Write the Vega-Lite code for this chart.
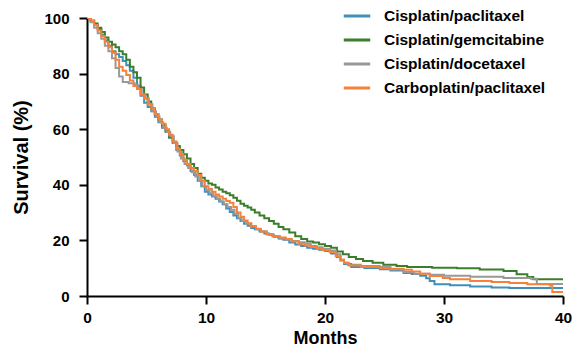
{
  "$schema": "https://vega.github.io/schema/vega-lite/v6.json",
  "autosize": {"type": "none"},
  "width": 476,
  "height": 278,
  "padding": {"left": 87, "top": 18, "right": 9, "bottom": 58},
  "background": "white",
  "config": {"view": {"stroke": null}, "font": "Liberation Sans"},
  "datasets": {
    "km": [
      {"g": "Cisplatin/paclitaxel", "m": 0, "s": 100},
      {"g": "Cisplatin/paclitaxel", "m": 0.3, "s": 99},
      {"g": "Cisplatin/paclitaxel", "m": 0.6, "s": 97.5},
      {"g": "Cisplatin/paclitaxel", "m": 0.9, "s": 96},
      {"g": "Cisplatin/paclitaxel", "m": 1.2, "s": 94},
      {"g": "Cisplatin/paclitaxel", "m": 1.5, "s": 92},
      {"g": "Cisplatin/paclitaxel", "m": 1.8, "s": 90},
      {"g": "Cisplatin/paclitaxel", "m": 2.1, "s": 88},
      {"g": "Cisplatin/paclitaxel", "m": 2.4, "s": 87},
      {"g": "Cisplatin/paclitaxel", "m": 2.7, "s": 86},
      {"g": "Cisplatin/paclitaxel", "m": 3.0, "s": 84.5},
      {"g": "Cisplatin/paclitaxel", "m": 3.3, "s": 83},
      {"g": "Cisplatin/paclitaxel", "m": 3.6, "s": 81},
      {"g": "Cisplatin/paclitaxel", "m": 3.9, "s": 78.5},
      {"g": "Cisplatin/paclitaxel", "m": 4.2, "s": 75.5},
      {"g": "Cisplatin/paclitaxel", "m": 4.5, "s": 72},
      {"g": "Cisplatin/paclitaxel", "m": 4.8, "s": 69.5},
      {"g": "Cisplatin/paclitaxel", "m": 5.1, "s": 68},
      {"g": "Cisplatin/paclitaxel", "m": 5.4, "s": 66.5},
      {"g": "Cisplatin/paclitaxel", "m": 5.7, "s": 64.5},
      {"g": "Cisplatin/paclitaxel", "m": 6.0, "s": 62.5},
      {"g": "Cisplatin/paclitaxel", "m": 6.3, "s": 60.5},
      {"g": "Cisplatin/paclitaxel", "m": 6.6, "s": 59},
      {"g": "Cisplatin/paclitaxel", "m": 6.9, "s": 57},
      {"g": "Cisplatin/paclitaxel", "m": 7.2, "s": 55},
      {"g": "Cisplatin/paclitaxel", "m": 7.5, "s": 52.5},
      {"g": "Cisplatin/paclitaxel", "m": 7.8, "s": 50.5},
      {"g": "Cisplatin/paclitaxel", "m": 8.1, "s": 48.5},
      {"g": "Cisplatin/paclitaxel", "m": 8.4, "s": 47},
      {"g": "Cisplatin/paclitaxel", "m": 8.7, "s": 45},
      {"g": "Cisplatin/paclitaxel", "m": 9.0, "s": 43.5},
      {"g": "Cisplatin/paclitaxel", "m": 9.3, "s": 41.5},
      {"g": "Cisplatin/paclitaxel", "m": 9.6, "s": 39.5},
      {"g": "Cisplatin/paclitaxel", "m": 9.9, "s": 37.5},
      {"g": "Cisplatin/paclitaxel", "m": 10.2, "s": 36.5},
      {"g": "Cisplatin/paclitaxel", "m": 10.5, "s": 35.8},
      {"g": "Cisplatin/paclitaxel", "m": 10.8, "s": 35},
      {"g": "Cisplatin/paclitaxel", "m": 11.1, "s": 34},
      {"g": "Cisplatin/paclitaxel", "m": 11.4, "s": 33},
      {"g": "Cisplatin/paclitaxel", "m": 11.7, "s": 31.5},
      {"g": "Cisplatin/paclitaxel", "m": 12.0, "s": 30.2},
      {"g": "Cisplatin/paclitaxel", "m": 12.3, "s": 29},
      {"g": "Cisplatin/paclitaxel", "m": 12.6, "s": 28},
      {"g": "Cisplatin/paclitaxel", "m": 12.9, "s": 27},
      {"g": "Cisplatin/paclitaxel", "m": 13.2, "s": 26},
      {"g": "Cisplatin/paclitaxel", "m": 13.5, "s": 25.3},
      {"g": "Cisplatin/paclitaxel", "m": 13.8, "s": 24.5},
      {"g": "Cisplatin/paclitaxel", "m": 14.1, "s": 24},
      {"g": "Cisplatin/paclitaxel", "m": 14.5, "s": 23.2},
      {"g": "Cisplatin/paclitaxel", "m": 14.9, "s": 22.5},
      {"g": "Cisplatin/paclitaxel", "m": 15.3, "s": 22},
      {"g": "Cisplatin/paclitaxel", "m": 15.7, "s": 21.3},
      {"g": "Cisplatin/paclitaxel", "m": 16.1, "s": 20.7},
      {"g": "Cisplatin/paclitaxel", "m": 16.5, "s": 20.2},
      {"g": "Cisplatin/paclitaxel", "m": 17, "s": 19.2},
      {"g": "Cisplatin/paclitaxel", "m": 17.5, "s": 18.5},
      {"g": "Cisplatin/paclitaxel", "m": 18, "s": 18},
      {"g": "Cisplatin/paclitaxel", "m": 18.5, "s": 17.4},
      {"g": "Cisplatin/paclitaxel", "m": 19, "s": 17},
      {"g": "Cisplatin/paclitaxel", "m": 19.5, "s": 16.6},
      {"g": "Cisplatin/paclitaxel", "m": 20, "s": 16.2},
      {"g": "Cisplatin/paclitaxel", "m": 20.5, "s": 15.3},
      {"g": "Cisplatin/paclitaxel", "m": 21, "s": 14},
      {"g": "Cisplatin/paclitaxel", "m": 21.3, "s": 12.8},
      {"g": "Cisplatin/paclitaxel", "m": 21.6, "s": 11.5},
      {"g": "Cisplatin/paclitaxel", "m": 22.2, "s": 10.4},
      {"g": "Cisplatin/paclitaxel", "m": 23.3, "s": 10.1},
      {"g": "Cisplatin/paclitaxel", "m": 24.6, "s": 9.6},
      {"g": "Cisplatin/paclitaxel", "m": 25.5, "s": 9.2},
      {"g": "Cisplatin/paclitaxel", "m": 26.6, "s": 8.3},
      {"g": "Cisplatin/paclitaxel", "m": 27.3, "s": 7.9},
      {"g": "Cisplatin/paclitaxel", "m": 28, "s": 7.3},
      {"g": "Cisplatin/paclitaxel", "m": 28.5, "s": 6.4},
      {"g": "Cisplatin/paclitaxel", "m": 28.8, "s": 5.4},
      {"g": "Cisplatin/paclitaxel", "m": 29.2, "s": 4.2},
      {"g": "Cisplatin/paclitaxel", "m": 30.5, "s": 3.9},
      {"g": "Cisplatin/paclitaxel", "m": 32.2, "s": 3.4},
      {"g": "Cisplatin/paclitaxel", "m": 34, "s": 3.1},
      {"g": "Cisplatin/paclitaxel", "m": 35.5, "s": 2.9},
      {"g": "Cisplatin/paclitaxel", "m": 40, "s": 2.9},

      {"g": "Cisplatin/gemcitabine", "m": 0, "s": 100},
      {"g": "Cisplatin/gemcitabine", "m": 0.3, "s": 99},
      {"g": "Cisplatin/gemcitabine", "m": 0.6, "s": 98},
      {"g": "Cisplatin/gemcitabine", "m": 0.9, "s": 96.5},
      {"g": "Cisplatin/gemcitabine", "m": 1.2, "s": 95},
      {"g": "Cisplatin/gemcitabine", "m": 1.5, "s": 93},
      {"g": "Cisplatin/gemcitabine", "m": 1.8, "s": 91.5},
      {"g": "Cisplatin/gemcitabine", "m": 2.1, "s": 90.5},
      {"g": "Cisplatin/gemcitabine", "m": 2.4, "s": 89.5},
      {"g": "Cisplatin/gemcitabine", "m": 2.7, "s": 88},
      {"g": "Cisplatin/gemcitabine", "m": 3.0, "s": 87},
      {"g": "Cisplatin/gemcitabine", "m": 3.3, "s": 85},
      {"g": "Cisplatin/gemcitabine", "m": 3.6, "s": 82.5},
      {"g": "Cisplatin/gemcitabine", "m": 3.9, "s": 80.5},
      {"g": "Cisplatin/gemcitabine", "m": 4.2, "s": 78.5},
      {"g": "Cisplatin/gemcitabine", "m": 4.5, "s": 75},
      {"g": "Cisplatin/gemcitabine", "m": 4.8, "s": 72.5},
      {"g": "Cisplatin/gemcitabine", "m": 5.1, "s": 70},
      {"g": "Cisplatin/gemcitabine", "m": 5.4, "s": 67.5},
      {"g": "Cisplatin/gemcitabine", "m": 5.7, "s": 65.5},
      {"g": "Cisplatin/gemcitabine", "m": 6.0, "s": 63.5},
      {"g": "Cisplatin/gemcitabine", "m": 6.3, "s": 61.5},
      {"g": "Cisplatin/gemcitabine", "m": 6.6, "s": 59.5},
      {"g": "Cisplatin/gemcitabine", "m": 6.9, "s": 57},
      {"g": "Cisplatin/gemcitabine", "m": 7.2, "s": 55.5},
      {"g": "Cisplatin/gemcitabine", "m": 7.5, "s": 54},
      {"g": "Cisplatin/gemcitabine", "m": 7.8, "s": 52.5},
      {"g": "Cisplatin/gemcitabine", "m": 8.1, "s": 51},
      {"g": "Cisplatin/gemcitabine", "m": 8.4, "s": 49.5},
      {"g": "Cisplatin/gemcitabine", "m": 8.7, "s": 47.5},
      {"g": "Cisplatin/gemcitabine", "m": 9.0, "s": 46},
      {"g": "Cisplatin/gemcitabine", "m": 9.3, "s": 44},
      {"g": "Cisplatin/gemcitabine", "m": 9.6, "s": 42.5},
      {"g": "Cisplatin/gemcitabine", "m": 9.9, "s": 41.5},
      {"g": "Cisplatin/gemcitabine", "m": 10.2, "s": 40.5},
      {"g": "Cisplatin/gemcitabine", "m": 10.5, "s": 40},
      {"g": "Cisplatin/gemcitabine", "m": 10.8, "s": 39},
      {"g": "Cisplatin/gemcitabine", "m": 11.1, "s": 38.3},
      {"g": "Cisplatin/gemcitabine", "m": 11.4, "s": 37.5},
      {"g": "Cisplatin/gemcitabine", "m": 11.7, "s": 37},
      {"g": "Cisplatin/gemcitabine", "m": 12.0, "s": 36.2},
      {"g": "Cisplatin/gemcitabine", "m": 12.3, "s": 35.3},
      {"g": "Cisplatin/gemcitabine", "m": 12.6, "s": 34.3},
      {"g": "Cisplatin/gemcitabine", "m": 12.9, "s": 33.2},
      {"g": "Cisplatin/gemcitabine", "m": 13.2, "s": 32.5},
      {"g": "Cisplatin/gemcitabine", "m": 13.5, "s": 31.8},
      {"g": "Cisplatin/gemcitabine", "m": 13.8, "s": 31},
      {"g": "Cisplatin/gemcitabine", "m": 14.1, "s": 30},
      {"g": "Cisplatin/gemcitabine", "m": 14.5, "s": 29},
      {"g": "Cisplatin/gemcitabine", "m": 14.9, "s": 28},
      {"g": "Cisplatin/gemcitabine", "m": 15.3, "s": 27},
      {"g": "Cisplatin/gemcitabine", "m": 15.7, "s": 26},
      {"g": "Cisplatin/gemcitabine", "m": 16.1, "s": 24.8},
      {"g": "Cisplatin/gemcitabine", "m": 16.5, "s": 24},
      {"g": "Cisplatin/gemcitabine", "m": 17, "s": 22.8},
      {"g": "Cisplatin/gemcitabine", "m": 17.5, "s": 21.5},
      {"g": "Cisplatin/gemcitabine", "m": 18, "s": 20.5},
      {"g": "Cisplatin/gemcitabine", "m": 18.5, "s": 19.6},
      {"g": "Cisplatin/gemcitabine", "m": 19, "s": 19.2},
      {"g": "Cisplatin/gemcitabine", "m": 19.5, "s": 18.6},
      {"g": "Cisplatin/gemcitabine", "m": 20, "s": 18},
      {"g": "Cisplatin/gemcitabine", "m": 20.5, "s": 17.4},
      {"g": "Cisplatin/gemcitabine", "m": 21, "s": 16},
      {"g": "Cisplatin/gemcitabine", "m": 21.5, "s": 15},
      {"g": "Cisplatin/gemcitabine", "m": 22, "s": 14},
      {"g": "Cisplatin/gemcitabine", "m": 22.6, "s": 13.3},
      {"g": "Cisplatin/gemcitabine", "m": 23.2, "s": 12.6},
      {"g": "Cisplatin/gemcitabine", "m": 24, "s": 12},
      {"g": "Cisplatin/gemcitabine", "m": 24.9, "s": 11.2},
      {"g": "Cisplatin/gemcitabine", "m": 26, "s": 10.8},
      {"g": "Cisplatin/gemcitabine", "m": 26.9, "s": 10.4},
      {"g": "Cisplatin/gemcitabine", "m": 29, "s": 10.2},
      {"g": "Cisplatin/gemcitabine", "m": 31.1, "s": 10},
      {"g": "Cisplatin/gemcitabine", "m": 33, "s": 9.5},
      {"g": "Cisplatin/gemcitabine", "m": 35, "s": 9},
      {"g": "Cisplatin/gemcitabine", "m": 36.1, "s": 7.8},
      {"g": "Cisplatin/gemcitabine", "m": 37, "s": 6.8},
      {"g": "Cisplatin/gemcitabine", "m": 37.5, "s": 6},
      {"g": "Cisplatin/gemcitabine", "m": 40, "s": 6},

      {"g": "Cisplatin/docetaxel", "m": 0, "s": 100},
      {"g": "Cisplatin/docetaxel", "m": 0.3, "s": 98.5},
      {"g": "Cisplatin/docetaxel", "m": 0.6, "s": 96.5},
      {"g": "Cisplatin/docetaxel", "m": 0.9, "s": 94.5},
      {"g": "Cisplatin/docetaxel", "m": 1.2, "s": 92.5},
      {"g": "Cisplatin/docetaxel", "m": 1.5, "s": 90},
      {"g": "Cisplatin/docetaxel", "m": 1.8, "s": 88},
      {"g": "Cisplatin/docetaxel", "m": 2.1, "s": 85.5},
      {"g": "Cisplatin/docetaxel", "m": 2.4, "s": 82},
      {"g": "Cisplatin/docetaxel", "m": 2.7, "s": 79},
      {"g": "Cisplatin/docetaxel", "m": 3.0, "s": 77},
      {"g": "Cisplatin/docetaxel", "m": 3.5, "s": 76.5},
      {"g": "Cisplatin/docetaxel", "m": 4.0, "s": 76},
      {"g": "Cisplatin/docetaxel", "m": 4.3, "s": 74.5},
      {"g": "Cisplatin/docetaxel", "m": 4.6, "s": 72.5},
      {"g": "Cisplatin/docetaxel", "m": 4.9, "s": 71},
      {"g": "Cisplatin/docetaxel", "m": 5.2, "s": 69},
      {"g": "Cisplatin/docetaxel", "m": 5.5, "s": 66.5},
      {"g": "Cisplatin/docetaxel", "m": 5.8, "s": 64.5},
      {"g": "Cisplatin/docetaxel", "m": 6.1, "s": 62.5},
      {"g": "Cisplatin/docetaxel", "m": 6.4, "s": 60.5},
      {"g": "Cisplatin/docetaxel", "m": 6.7, "s": 59},
      {"g": "Cisplatin/docetaxel", "m": 7.0, "s": 57.5},
      {"g": "Cisplatin/docetaxel", "m": 7.3, "s": 55},
      {"g": "Cisplatin/docetaxel", "m": 7.6, "s": 52},
      {"g": "Cisplatin/docetaxel", "m": 7.9, "s": 49.5},
      {"g": "Cisplatin/docetaxel", "m": 8.2, "s": 47.5},
      {"g": "Cisplatin/docetaxel", "m": 8.5, "s": 46},
      {"g": "Cisplatin/docetaxel", "m": 8.8, "s": 44.5},
      {"g": "Cisplatin/docetaxel", "m": 9.1, "s": 43},
      {"g": "Cisplatin/docetaxel", "m": 9.4, "s": 41.5},
      {"g": "Cisplatin/docetaxel", "m": 9.7, "s": 39.5},
      {"g": "Cisplatin/docetaxel", "m": 10.0, "s": 38},
      {"g": "Cisplatin/docetaxel", "m": 10.3, "s": 37},
      {"g": "Cisplatin/docetaxel", "m": 10.6, "s": 36},
      {"g": "Cisplatin/docetaxel", "m": 10.9, "s": 35},
      {"g": "Cisplatin/docetaxel", "m": 11.2, "s": 34},
      {"g": "Cisplatin/docetaxel", "m": 11.5, "s": 33},
      {"g": "Cisplatin/docetaxel", "m": 11.8, "s": 32},
      {"g": "Cisplatin/docetaxel", "m": 12.1, "s": 31},
      {"g": "Cisplatin/docetaxel", "m": 12.4, "s": 29.5},
      {"g": "Cisplatin/docetaxel", "m": 12.7, "s": 28},
      {"g": "Cisplatin/docetaxel", "m": 13.0, "s": 27},
      {"g": "Cisplatin/docetaxel", "m": 13.4, "s": 26},
      {"g": "Cisplatin/docetaxel", "m": 13.8, "s": 25},
      {"g": "Cisplatin/docetaxel", "m": 14.2, "s": 24},
      {"g": "Cisplatin/docetaxel", "m": 14.6, "s": 23.2},
      {"g": "Cisplatin/docetaxel", "m": 15.1, "s": 22.2},
      {"g": "Cisplatin/docetaxel", "m": 15.6, "s": 21.5},
      {"g": "Cisplatin/docetaxel", "m": 16.2, "s": 20.7},
      {"g": "Cisplatin/docetaxel", "m": 16.7, "s": 20.3},
      {"g": "Cisplatin/docetaxel", "m": 17.2, "s": 19.8},
      {"g": "Cisplatin/docetaxel", "m": 17.8, "s": 19.3},
      {"g": "Cisplatin/docetaxel", "m": 18.3, "s": 18.8},
      {"g": "Cisplatin/docetaxel", "m": 18.8, "s": 18},
      {"g": "Cisplatin/docetaxel", "m": 19.3, "s": 17.5},
      {"g": "Cisplatin/docetaxel", "m": 19.8, "s": 17},
      {"g": "Cisplatin/docetaxel", "m": 20.4, "s": 16.4},
      {"g": "Cisplatin/docetaxel", "m": 20.9, "s": 15},
      {"g": "Cisplatin/docetaxel", "m": 21.3, "s": 13},
      {"g": "Cisplatin/docetaxel", "m": 21.6, "s": 12},
      {"g": "Cisplatin/docetaxel", "m": 21.9, "s": 11.2},
      {"g": "Cisplatin/docetaxel", "m": 23, "s": 10.8},
      {"g": "Cisplatin/docetaxel", "m": 24.6, "s": 10.4},
      {"g": "Cisplatin/docetaxel", "m": 25.5, "s": 9.5},
      {"g": "Cisplatin/docetaxel", "m": 26.6, "s": 8.6},
      {"g": "Cisplatin/docetaxel", "m": 27.5, "s": 8},
      {"g": "Cisplatin/docetaxel", "m": 28.8, "s": 7.6},
      {"g": "Cisplatin/docetaxel", "m": 30, "s": 7.3},
      {"g": "Cisplatin/docetaxel", "m": 32.2, "s": 6.9},
      {"g": "Cisplatin/docetaxel", "m": 35, "s": 6.5},
      {"g": "Cisplatin/docetaxel", "m": 37.3, "s": 6.2},
      {"g": "Cisplatin/docetaxel", "m": 37.8, "s": 4.3},
      {"g": "Cisplatin/docetaxel", "m": 40, "s": 4.3},

      {"g": "Carboplatin/paclitaxel", "m": 0, "s": 100},
      {"g": "Carboplatin/paclitaxel", "m": 0.3, "s": 99},
      {"g": "Carboplatin/paclitaxel", "m": 0.6, "s": 97.5},
      {"g": "Carboplatin/paclitaxel", "m": 0.9, "s": 95.5},
      {"g": "Carboplatin/paclitaxel", "m": 1.2, "s": 93.5},
      {"g": "Carboplatin/paclitaxel", "m": 1.5, "s": 91.5},
      {"g": "Carboplatin/paclitaxel", "m": 1.8, "s": 89.5},
      {"g": "Carboplatin/paclitaxel", "m": 2.1, "s": 87.5},
      {"g": "Carboplatin/paclitaxel", "m": 2.4, "s": 85},
      {"g": "Carboplatin/paclitaxel", "m": 2.7, "s": 82.5},
      {"g": "Carboplatin/paclitaxel", "m": 3.0, "s": 81},
      {"g": "Carboplatin/paclitaxel", "m": 3.3, "s": 79.5},
      {"g": "Carboplatin/paclitaxel", "m": 3.6, "s": 77.5},
      {"g": "Carboplatin/paclitaxel", "m": 3.9, "s": 75.5},
      {"g": "Carboplatin/paclitaxel", "m": 4.2, "s": 74.5},
      {"g": "Carboplatin/paclitaxel", "m": 4.5, "s": 72.5},
      {"g": "Carboplatin/paclitaxel", "m": 4.8, "s": 71},
      {"g": "Carboplatin/paclitaxel", "m": 5.1, "s": 69},
      {"g": "Carboplatin/paclitaxel", "m": 5.4, "s": 67.5},
      {"g": "Carboplatin/paclitaxel", "m": 5.7, "s": 65.5},
      {"g": "Carboplatin/paclitaxel", "m": 6.0, "s": 63.5},
      {"g": "Carboplatin/paclitaxel", "m": 6.3, "s": 62},
      {"g": "Carboplatin/paclitaxel", "m": 6.6, "s": 60},
      {"g": "Carboplatin/paclitaxel", "m": 6.9, "s": 58},
      {"g": "Carboplatin/paclitaxel", "m": 7.2, "s": 55.5},
      {"g": "Carboplatin/paclitaxel", "m": 7.5, "s": 53},
      {"g": "Carboplatin/paclitaxel", "m": 7.8, "s": 51},
      {"g": "Carboplatin/paclitaxel", "m": 8.1, "s": 49},
      {"g": "Carboplatin/paclitaxel", "m": 8.4, "s": 47.5},
      {"g": "Carboplatin/paclitaxel", "m": 8.7, "s": 46},
      {"g": "Carboplatin/paclitaxel", "m": 9.0, "s": 45},
      {"g": "Carboplatin/paclitaxel", "m": 9.3, "s": 43.5},
      {"g": "Carboplatin/paclitaxel", "m": 9.6, "s": 41.5},
      {"g": "Carboplatin/paclitaxel", "m": 9.9, "s": 39.5},
      {"g": "Carboplatin/paclitaxel", "m": 10.2, "s": 38.5},
      {"g": "Carboplatin/paclitaxel", "m": 10.5, "s": 37.5},
      {"g": "Carboplatin/paclitaxel", "m": 10.8, "s": 36.5},
      {"g": "Carboplatin/paclitaxel", "m": 11.1, "s": 35.8},
      {"g": "Carboplatin/paclitaxel", "m": 11.4, "s": 35},
      {"g": "Carboplatin/paclitaxel", "m": 11.7, "s": 34.2},
      {"g": "Carboplatin/paclitaxel", "m": 12.0, "s": 33.5},
      {"g": "Carboplatin/paclitaxel", "m": 12.3, "s": 32},
      {"g": "Carboplatin/paclitaxel", "m": 12.6, "s": 30},
      {"g": "Carboplatin/paclitaxel", "m": 12.9, "s": 28.5},
      {"g": "Carboplatin/paclitaxel", "m": 13.2, "s": 27.2},
      {"g": "Carboplatin/paclitaxel", "m": 13.5, "s": 26.2},
      {"g": "Carboplatin/paclitaxel", "m": 13.8, "s": 25.2},
      {"g": "Carboplatin/paclitaxel", "m": 14.2, "s": 24.2},
      {"g": "Carboplatin/paclitaxel", "m": 14.6, "s": 23.2},
      {"g": "Carboplatin/paclitaxel", "m": 15.1, "s": 22.2},
      {"g": "Carboplatin/paclitaxel", "m": 15.6, "s": 21.5},
      {"g": "Carboplatin/paclitaxel", "m": 16.2, "s": 21},
      {"g": "Carboplatin/paclitaxel", "m": 16.7, "s": 20.5},
      {"g": "Carboplatin/paclitaxel", "m": 17.2, "s": 19.6},
      {"g": "Carboplatin/paclitaxel", "m": 17.8, "s": 18.8},
      {"g": "Carboplatin/paclitaxel", "m": 18.3, "s": 18.2},
      {"g": "Carboplatin/paclitaxel", "m": 18.8, "s": 17.6},
      {"g": "Carboplatin/paclitaxel", "m": 19.3, "s": 17},
      {"g": "Carboplatin/paclitaxel", "m": 19.8, "s": 16.5},
      {"g": "Carboplatin/paclitaxel", "m": 20.4, "s": 15.8},
      {"g": "Carboplatin/paclitaxel", "m": 20.9, "s": 14.3},
      {"g": "Carboplatin/paclitaxel", "m": 21.3, "s": 13},
      {"g": "Carboplatin/paclitaxel", "m": 21.6, "s": 12},
      {"g": "Carboplatin/paclitaxel", "m": 22, "s": 11},
      {"g": "Carboplatin/paclitaxel", "m": 23, "s": 10.4},
      {"g": "Carboplatin/paclitaxel", "m": 24.6, "s": 10},
      {"g": "Carboplatin/paclitaxel", "m": 25.5, "s": 9.8},
      {"g": "Carboplatin/paclitaxel", "m": 26.6, "s": 9.4},
      {"g": "Carboplatin/paclitaxel", "m": 27.3, "s": 8.8},
      {"g": "Carboplatin/paclitaxel", "m": 28, "s": 8},
      {"g": "Carboplatin/paclitaxel", "m": 28.8, "s": 7.2},
      {"g": "Carboplatin/paclitaxel", "m": 29.9, "s": 6.5},
      {"g": "Carboplatin/paclitaxel", "m": 30.5, "s": 6},
      {"g": "Carboplatin/paclitaxel", "m": 32.2, "s": 5.4},
      {"g": "Carboplatin/paclitaxel", "m": 34, "s": 5},
      {"g": "Carboplatin/paclitaxel", "m": 35.5, "s": 4.7},
      {"g": "Carboplatin/paclitaxel", "m": 37, "s": 4.2},
      {"g": "Carboplatin/paclitaxel", "m": 38.9, "s": 3.8},
      {"g": "Carboplatin/paclitaxel", "m": 39.1, "s": 1.4},
      {"g": "Carboplatin/paclitaxel", "m": 40, "s": 1.4}
    ]
  },
  "data": {"name": "km"},
  "mark": {"type": "line", "interpolate": "step-after", "strokeWidth": 2, "clip": true},
  "encoding": {
    "x": {
      "field": "m", "type": "quantitative",
      "scale": {"domain": [0, 40], "nice": false},
      "axis": {
        "title": "Months", "values": [0, 10, 20, 30, 40],
        "grid": false, "domainColor": "black", "domainWidth": 2,
        "tickColor": "black", "tickWidth": 2, "tickSize": 8,
        "labelFont": "Liberation Sans", "labelFontWeight": "bold", "labelFontSize": 15.5, "labelColor": "black",
        "labelPadding": 6, "labelFlush": false,
        "titleFont": "Liberation Sans", "titleFontWeight": "bold", "titleFontSize": 18, "titleColor": "black",
        "titlePadding": 4
      }
    },
    "y": {
      "field": "s", "type": "quantitative",
      "scale": {"domain": [0, 100], "nice": false},
      "axis": {
        "title": "Survival (%)", "values": [0, 20, 40, 60, 80, 100],
        "grid": false, "domainColor": "black", "domainWidth": 2,
        "tickColor": "black", "tickWidth": 2, "tickSize": 8,
        "labelFont": "Liberation Sans", "labelFontWeight": "bold", "labelFontSize": 15, "labelColor": "black",
        "labelPadding": 10, "labelFlush": false,
        "titleFont": "Liberation Sans", "titleFontWeight": "bold", "titleFontSize": 20, "titleColor": "black",
        "titlePadding": 12
      }
    },
    "color": {
      "field": "g", "type": "nominal",
      "scale": {
        "domain": ["Cisplatin/paclitaxel", "Cisplatin/gemcitabine", "Cisplatin/docetaxel", "Carboplatin/paclitaxel"],
        "range": ["#3f8fba", "#3a7d2a", "#999999", "#f5813a"]
      },
      "legend": {
        "title": null, "orient": "none", "legendX": 255, "legendY": -17,
        "symbolType": "stroke", "symbolSize": 700, "symbolStrokeWidth": 3,
        "labelFont": "Liberation Sans", "labelFontWeight": "bold", "labelFontSize": 15.5, "labelColor": "black",
        "labelOffset": 12, "rowPadding": 0, "padding": 0, "labelLimit": 300
      }
    }
  }
}
